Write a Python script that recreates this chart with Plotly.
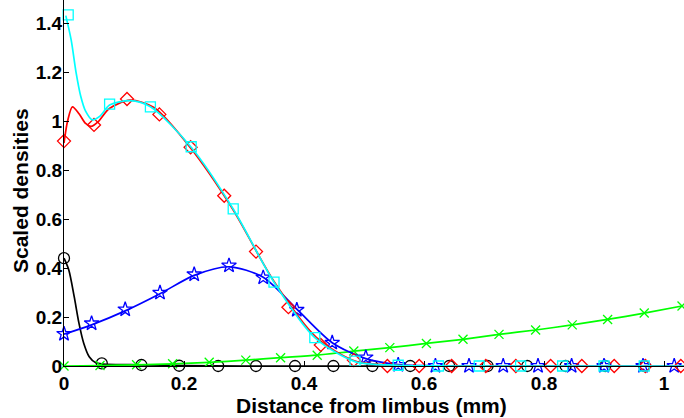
import plotly.graph_objects as go

# ---- data ----
# red diamonds
red_mx = [0, 0.05, 0.105, 0.159, 0.211, 0.267, 0.32, 0.374, 0.428, 0.483, 0.539, 0.592, 0.646, 0.703, 0.753, 0.811, 0.863, 0.917, 0.969, 1.028]
red_my = [0.918, 0.984, 1.09, 1.027, 0.893, 0.695, 0.467, 0.24, 0.086, 0.024, 0, 0, 0, 0, 0, 0, 0, 0, 0, 0]
red_lx = [0, 0.006, 0.014, 0.025, 0.036, 0.045, 0.058, 0.075, 0.11, 0.15, 0.21, 0.28, 0.35, 0.42, 0.485, 0.557, 0.65, 1.04]
red_ly = [0.91, 1.0, 1.058, 1.03, 0.99, 0.978, 1.0, 1.05, 1.085, 1.055, 0.893, 0.645, 0.345, 0.118, 0.02, 0.003, 0, 0]

# cyan squares
cyan_mx = [0.007, 0.076, 0.144, 0.212, 0.282, 0.35, 0.418, 0.485, 0.557, 0.624, 0.692, 0.761, 0.831, 0.9, 0.967, 1.036]
cyan_my = [1.433, 1.069, 1.058, 0.895, 0.641, 0.342, 0.116, 0.02, 0.003, 0, 0, 0, 0, 0, 0, 0]
cyan_lx = [0.003, 0.012, 0.02, 0.028, 0.036, 0.047, 0.06, 0.076, 0.11, 0.144, 0.212, 0.282, 0.35, 0.418, 0.485, 0.557, 0.65, 1.04]
cyan_ly = [1.43, 1.33, 1.2, 1.1, 1.04, 1.005, 1.02, 1.065, 1.083, 1.058, 0.893, 0.641, 0.342, 0.116, 0.018, 0.003, 0, 0]

# blue stars
blue_mx = [0, 0.046, 0.102, 0.16, 0.217, 0.275, 0.332, 0.388, 0.447, 0.503, 0.557, 0.619, 0.675, 0.732, 0.79, 0.846, 0.9, 0.965, 1.017]
blue_my = [0.131, 0.174, 0.231, 0.299, 0.374, 0.41, 0.361, 0.229, 0.095, 0.035, 0.004, 0, 0, 0, 0, 0, 0, 0, 0]
blue_lx = [0, 0.046, 0.102, 0.16, 0.217, 0.275, 0.332, 0.388, 0.447, 0.503, 0.557, 0.62, 1.04]
blue_ly = [0.13, 0.168, 0.225, 0.295, 0.37, 0.405, 0.362, 0.232, 0.095, 0.03, 0.006, 0.001, 0]

# black circles
black_mx = [0, 0.063, 0.129, 0.192, 0.257, 0.32, 0.385, 0.449, 0.514, 0.577, 0.642, 0.706, 0.772, 0.836, 0.902, 0.967]
black_my = [0.44, 0.011, 0.004, 0.001, 0, 0, 0, 0, 0, 0, 0, 0, 0, 0, 0, 0]
black_lx = [0, 0.008, 0.017, 0.025, 0.033, 0.042, 0.053, 0.065, 0.13, 0.2, 0.3, 1.04]
black_ly = [0.44, 0.392, 0.283, 0.174, 0.092, 0.038, 0.013, 0.008, 0.005, 0.002, 0, 0]

# green crosses
green_mx = [0, 0.06, 0.121, 0.181, 0.242, 0.303, 0.361, 0.422, 0.483, 0.543, 0.604, 0.665, 0.725, 0.786, 0.847, 0.906, 0.967, 1.03]
green_my = [0, 0.002, 0.005, 0.009, 0.015, 0.024, 0.034, 0.044, 0.061, 0.075, 0.092, 0.109, 0.129, 0.147, 0.168, 0.19, 0.216, 0.245]

x_ticks = [0, 0.2, 0.4, 0.6, 0.8, 1]
x_tick_labels = ["0", "0.2", "0.4", "0.6", "0.8", "1"]
y_ticks = [0, 0.2, 0.4, 0.6, 0.8, 1, 1.2, 1.4]
y_tick_labels = ["0", "0.2", "0.4", "0.6", "0.8", "1", "1.2", "1.4"]
x_title = "Distance from limbus (mm)"
y_title = "Scaled densities"

fig = go.Figure()

def add_line(x, y, color):
    fig.add_trace(go.Scatter(x=x, y=y, mode="lines", line=dict(color=color, width=1.7, shape="spline", smoothing=0.8),
                             showlegend=False, hoverinfo="skip", cliponaxis=False))

def add_markers(x, y, color, symbol, size):
    fig.add_trace(go.Scatter(x=x, y=y, mode="markers",
                             marker=dict(symbol=symbol, size=size, color=color, line=dict(color=color, width=1.3)),
                             showlegend=False, cliponaxis=False))

add_line(black_lx, black_ly, "black")
add_markers(black_mx, black_my, "black", "circle-open", 11)
add_line(green_mx, green_my, "#00FF00")
add_markers(green_mx, green_my, "#00FF00", "x-thin-open", 9)
add_line(blue_lx, blue_ly, "#0000FF")
add_markers(blue_mx, blue_my, "#0000FF", "star-open", 11)
add_line(red_lx, red_ly, "#FF0000")
add_markers(red_mx, red_my, "#FF0000", "diamond-open", 10)
add_line(cyan_lx, cyan_ly, "#00FFFF")
add_markers(cyan_mx, cyan_my, "#00FFFF", "square-open", 10)

font_family = "Liberation Sans"
PLOT_H = 366.0
fig.update_layout(
    width=684, height=418,
    margin=dict(l=64, r=0, t=0, b=52),
    paper_bgcolor="white", plot_bgcolor="white",
    font=dict(family=font_family, size=19, color="black"),
    xaxis=dict(range=[0, 1.0333], tickvals=x_ticks, ticktext=x_tick_labels,
               ticks="inside", ticklen=5, tickcolor="black", showgrid=False, zeroline=False,
               showline=True, linecolor="black", linewidth=1,
               tickfont=dict(family=font_family, size=19, weight="bold")),
    yaxis=dict(range=[0, 1.494], tickvals=y_ticks, ticktext=y_tick_labels,
               ticks="inside", ticklen=5, tickcolor="black", showgrid=False, zeroline=False,
               showline=True, linecolor="black", linewidth=1, ticklabelstandoff=-3,
               tickfont=dict(family=font_family, size=19, weight="bold")),
    annotations=[
        dict(text="<b>%s</b>" % x_title, xref="paper", yref="paper", x=(371.5 - 64) / 620.0,
             y=(PLOT_H - 405) / PLOT_H, xanchor="center", yanchor="middle", showarrow=False,
             font=dict(family=font_family, size=21)),
        dict(text="<b>%s</b>" % y_title, xref="paper", yref="paper", x=(20 - 64) / 620.0,
             y=(PLOT_H - 191) / PLOT_H, xanchor="center", yanchor="middle", showarrow=False,
             textangle=-90, font=dict(family=font_family, size=21)),
    ],
)

fig.write_html("out.html")
